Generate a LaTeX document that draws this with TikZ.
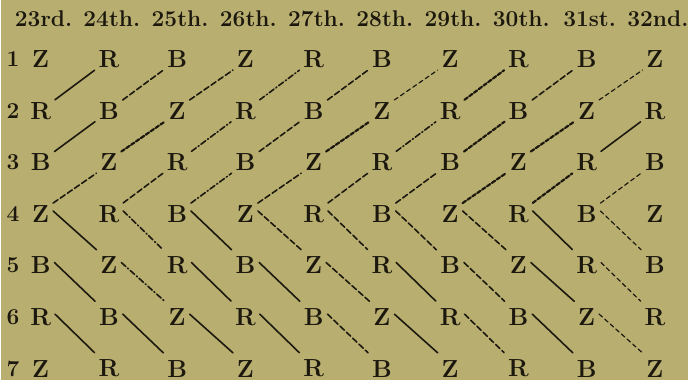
\documentclass[tikz,border=0pt]{standalone}
\usepackage{tikz}
\definecolor{paper}{RGB}{184,174,112}
\definecolor{ink}{RGB}{28,24,14}

\begin{document}
\begin{tikzpicture}[x=0.5pt, y=-0.5pt,
  hdr/.style={font=\fontsize{11.5}{13}\selectfont\bfseries, text=ink},
  ltr/.style={font=\fontsize{12.5}{14}\selectfont\bfseries, text=ink,
    inner xsep=1.8pt, inner ysep=1pt},
  ln/.style={draw=ink, line width=0.8pt, line cap=round},
  ls/.style={ln},
  ld/.style={ln, dash pattern=on 3pt off 1.4pt},
  lt/.style={ln, line width=0.6pt, dash pattern=on 2.2pt off 1.6pt},
  lk/.style={ln, line width=1.1pt, dash pattern=on 2pt off 1pt},
  lm/.style={ln, dash pattern=on 3pt off 1.2pt on 0.6pt off 1.2pt}
]
\fill[paper] (0,0) rectangle (695,385);

% column heads
\foreach \h [count=\c] in {23rd.,24th.,25th.,26th.,27th.,28th.,29th.,30th.,31st.,32nd.}
  \node[hdr] (h-\c) at ({43+69.1*(\c-1)},19) {\h};

% rows of letters
\foreach \row [count=\r] in {{Z,R,B,Z,R,B,Z,R,B,Z},{R,B,Z,R,B,Z,R,B,Z,R},
    {B,Z,R,B,Z,R,B,Z,R,B},{Z,R,B,Z,R,B,Z,R,B,Z},{B,Z,R,B,Z,R,B,Z,R,B},
    {R,B,Z,R,B,Z,R,B,Z,R},{Z,R,B,Z,R,B,Z,R,B,Z}}{
  \node[hdr] (num-\r) at (12,{60+52.2*(\r-1)}) {\r};
  \foreach \l [count=\c] in \row
    \node[ltr] (n-\r-\c) at ({40+69.1*(\c-1)},{60+52.2*(\r-1)}) {\l};
}

% rising strokes, rows 4 to 1
\foreach \sty [count=\r] in {{ls,ld,ld,lm,ld,lt,lk,ld,lt},{ls,lk,lm,ld,lk,lm,lk,lk,ls},
    {ld,ld,lm,ld,ld,ld,lk,lk,lt}}{
  \foreach \s [count=\c] in \sty {
    \pgfmathtruncatemacro\rb{\r+1}
    \pgfmathtruncatemacro\cn{\c+1}
    \draw[\s] (n-\rb-\c.north east) -- (n-\r-\cn.south west);
  }
}

% falling strokes, rows 4 to 7
\foreach \sty [count=\i] in {{ls,lm,ls,ld,ld,ld,ld,ls,lt},{ls,lm,ls,ls,ld,ls,ld,ls,lt},
    {ls,ls,ls,ls,ld,ls,ld,ls,lt}}{
  \foreach \s [count=\c] in \sty {
    \pgfmathtruncatemacro\r{\i+3}
    \pgfmathtruncatemacro\rb{\i+4}
    \pgfmathtruncatemacro\cn{\c+1}
    \draw[\s] ([yshift=1.5pt]n-\r-\c.east) -- ([yshift=2.5pt]n-\rb-\cn.north west);
  }
}
\end{tikzpicture}
\end{document}
